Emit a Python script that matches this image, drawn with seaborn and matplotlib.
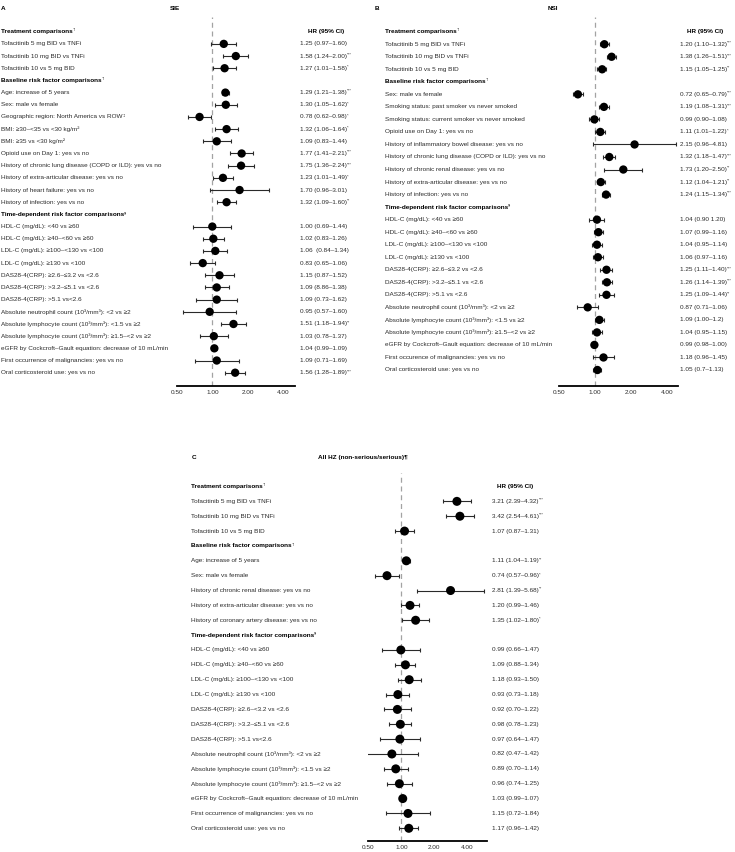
"""
Forest plots of hazard ratios (SIE, NSI, all HZ) in three panels.
"""

import numpy as np
import pandas as pd
import matplotlib
matplotlib.use("Agg")
import matplotlib.pyplot as plt
import matplotlib.ticker as mticker
import matplotlib.transforms as mtransforms
import seaborn as sns

W, H = 735, 852
FS = 4.6
SUP_FS = 3.0
TEXT_COLOR = "#2b2b2b"

# ---------------------------------------------------------------------------
# Data
# ---------------------------------------------------------------------------
HDR_TRT = "Treatment comparisons"
HDR_BASE = "Baseline risk factor comparisons"
HDR_TIME = "Time-dependent risk factor comparisons"
HEADER_MARKS = {HDR_TRT: "†", HDR_BASE: "†", HDR_TIME: "§"}

# Panel A - SIE
A_labels = [
    HDR_TRT,
    "Tofacitinib 5 mg BID vs TNFi",
    "Tofacitinib 10 mg BID vs TNFi",
    "Tofacitinib 10 vs 5 mg BID",
    HDR_BASE,
    "Age: increase of 5 years",
    "Sex: male vs female",
    "Geographic region: North America vs ROW",
    "BMI: ≥30–<35 vs <30 kg/m²",
    "BMI: ≥35 vs <30 kg/m²",
    "Opioid use on Day 1: yes vs no",
    "History of chronic lung disease (COPD or ILD): yes vs no",
    "History of extra-articular disease: yes vs no",
    "History of heart failure: yes vs no",
    "History of infection: yes vs no",
    HDR_TIME,
    "HDL-C (mg/dL): <40 vs ≥60",
    "HDL-C (mg/dL): ≥40–<60 vs ≥60",
    "LDL-C (mg/dL): ≥100–<130 vs <100",
    "LDL-C (mg/dL): ≥130 vs <100",
    "DAS28-4(CRP): ≥2.6–≤3.2 vs <2.6",
    "DAS28-4(CRP): >3.2–≤5.1 vs <2.6",
    "DAS28-4(CRP): >5.1 vs<2.6",
    "Absolute neutrophil count (10³/mm³): <2 vs ≥2",
    "Absolute lymphocyte count (10³/mm³): <1.5 vs ≥2",
    "Absolute lymphocyte count (10³/mm³): ≥1.5–<2 vs ≥2",
    "eGFR by Cockcroft–Gault equation: decrease of 10 mL/min",
    "First occurrence of malignancies: yes vs no",
    "Oral corticosteroid use: yes vs no",
]
A_hr = [np.nan, 1.25, 1.58, 1.27, np.nan, 1.29, 1.30, 0.78, 1.32, 1.09, 1.77, 1.75, 1.23, 1.70, 1.32,
        np.nan, 1.00, 1.02, 1.06, 0.83, 1.15, 1.09, 1.09, 0.95, 1.51, 1.03, 1.04, 1.09, 1.56]
A_lo = [np.nan, 0.97, 1.24, 1.01, np.nan, 1.21, 1.05, 0.62, 1.06, 0.83, 1.41, 1.36, 1.01, 0.96, 1.09,
        np.nan, 0.69, 0.83, 0.84, 0.65, 0.87, 0.86, 0.73, 0.57, 1.18, 0.78, 0.99, 0.71, 1.28]
A_hi = [np.nan, 1.60, 2.00, 1.58, np.nan, 1.38, 1.62, 0.98, 1.64, 1.44, 2.21, 2.24, 1.49, 3.01, 1.60,
        np.nan, 1.44, 1.26, 1.34, 1.06, 1.52, 1.38, 1.62, 1.60, 1.94, 1.37, 1.09, 1.69, 1.89]
A_ci_text = ["", "1.25 (0.97–1.60)", "1.58 (1.24–2.00)", "1.27 (1.01–1.58)", "",
             "1.29 (1.21–1.38)", "1.30 (1.05–1.62)", "0.78 (0.62–0.98)", "1.32 (1.06–1.64)",
             "1.09 (0.83–1.44)", "1.77 (1.41–2.21)", "1.75 (1.36–2.24)", "1.23 (1.01–1.49)",
             "1.70 (0.96–3.01)", "1.32 (1.09–1.60)", "",
             "1.00 (0.69–1.44)", "1.02 (0.83–1.26)", "1.06  (0.84–1.34)", "0.83 (0.65–1.06)",
             "1.15 (0.87–1.52)", "1.09 (8.86–1.38)", "1.09 (0.73–1.62)", "0.95 (0.57–1.60)",
             "1.51 (1.18–1.94)", "1.03 (0.78–1.37)", "1.04 (0.99–1.09)", "1.09 (0.71–1.69)",
             "1.56 (1.28–1.89)"]
A_sig = ["", "", "***", "*", "", "***", "*", "*", "*", "", "***", "***", "*", "", "**", "",
         "", "", "", "", "", "", "", "", "**", "", "", "", "***"]
A_label_marks = {"Geographic region: North America vs ROW": "‡"}

# Panel B - NSI
B_labels = [
    HDR_TRT,
    "Tofacitinib 5 mg BID vs TNFi",
    "Tofacitinib 10 mg BID vs TNFi",
    "Tofacitinib 10 vs 5 mg BID",
    HDR_BASE,
    "Sex: male vs female",
    "Smoking status: past smoker vs never smoked",
    "Smoking status: current smoker vs never smoked",
    "Opioid use on Day 1: yes vs no",
    "History of inflammatory bowel disease: yes vs no",
    "History of chronic lung disease (COPD or ILD): yes vs no",
    "History of chronic renal disease: yes vs no",
    "History of extra-articular disease: yes vs no",
    "History of infection: yes vs no",
    HDR_TIME,
    "HDL-C (mg/dL): <40 vs ≥60",
    "HDL-C (mg/dL): ≥40–<60 vs ≥60",
    "LDL-C (mg/dL): ≥100–<130 vs <100",
    "LDL-C (mg/dL): ≥130 vs <100",
    "DAS28-4(CRP): ≥2.6–≤3.2 vs <2.6",
    "DAS28-4(CRP): >3.2–≤5.1 vs <2.6",
    "DAS28-4(CRP): >5.1 vs <2.6",
    "Absolute neutrophil count (10³/mm³): <2 vs ≥2",
    "Absolute lymphocyte count (10³/mm³): <1.5 vs ≥2",
    "Absolute lymphocyte count (10³/mm³): ≥1.5–<2 vs ≥2",
    "eGFR by Cockcroft–Gault equation: decrease of 10 mL/min",
    "First occurence of malignancies: yes vs no",
    "Oral corticosteroid use: yes vs no",
]
B_hr = [np.nan, 1.20, 1.38, 1.15, np.nan, 0.72, 1.19, 0.99, 1.11, 2.15, 1.32, 1.73, 1.12, 1.24,
        np.nan, 1.04, 1.07, 1.04, 1.06, 1.25, 1.26, 1.25, 0.87, 1.09, 1.04, 0.99, 1.18, 1.05]
B_lo = [np.nan, 1.10, 1.26, 1.05, np.nan, 0.65, 1.08, 0.90, 1.01, 0.96, 1.18, 1.20, 1.04, 1.15,
        np.nan, 0.90, 0.99, 0.95, 0.97, 1.11, 1.14, 1.09, 0.71, 1.00, 0.95, 0.98, 0.96, 0.97]
B_hi = [np.nan, 1.32, 1.51, 1.25, np.nan, 0.79, 1.31, 1.08, 1.22, 4.81, 1.47, 2.50, 1.21, 1.34,
        np.nan, 1.20, 1.16, 1.14, 1.16, 1.40, 1.39, 1.44, 1.06, 1.20, 1.15, 1.00, 1.45, 1.13]
B_ci_text = ["", "1.20 (1.10–1.32)", "1.38 (1.26–1.51)", "1.15 (1.05–1.25)", "",
             "0.72 (0.65–0.79)", "1.19 (1.08–1.31)", "0.99 (0.90–1.08)", "1.11 (1.01–1.22)",
             "2.15 (0.96–4.81)", "1.32 (1.18–1.47)", "1.73 (1.20–2.50)", "1.12 (1.04–1.21)",
             "1.24 (1.15–1.34)", "",
             "1.04 (0.90 1.20)", "1.07 (0.99–1.16)", "1.04 (0.95–1.14)", "1.06 (0.97–1.16)",
             "1.25 (1.11–1.40)", "1.26 (1.14–1.39)", "1.25 (1.09–1.44)", "0.87 (0.71–1.06)",
             "1.09 (1.00–1.2)", "1.04 (0.95–1.15)", "0.99 (0.98–1.00)", "1.18 (0.96–1.45)",
             "1.05 (0.7–1.13)"]
B_sig = ["", "***", "***", "**", "", "***", "***", "", "*", "", "***", "**", "**", "***", "",
         "", "", "", "", "***", "***", "**", "", "", "", "", "", ""]

# Panel C - All HZ
C_labels = [
    HDR_TRT,
    "Tofacitinib 5 mg BID vs TNFi",
    "Tofacitinib 10 mg BID vs TNFi",
    "Tofacitinib 10 vs 5 mg BID",
    HDR_BASE,
    "Age: increase of 5 years",
    "Sex: male vs female",
    "History of chronic renal disease: yes vs no",
    "History of extra-articular disease: yes vs no",
    "History of coronary artery disease: yes vs no",
    HDR_TIME,
    "HDL-C (mg/dL): <40 vs ≥60",
    "HDL-C (mg/dL): ≥40–<60 vs ≥60",
    "LDL-C (mg/dL): ≥100–<130 vs <100",
    "LDL-C (mg/dL): ≥130 vs <100",
    "DAS28-4(CRP): ≥2.6–<3.2 vs <2.6",
    "DAS28-4(CRP): >3.2–≤5.1 vs <2.6",
    "DAS28-4(CRP): >5.1 vs<2.6",
    "Absolute neutrophil count (10³/mm³): <2 vs ≥2",
    "Absolute lymphocyte count (10³/mm³): <1.5 vs ≥2",
    "Absolute lymphocyte count (10³/mm³): ≥1.5–<2 vs ≥2",
    "eGFR by Cockcroft–Gault equation: decrease of 10 mL/min",
    "First occurrence of malignancies: yes vs no",
    "Oral corticosteroid use: yes vs no",
]
C_hr = [np.nan, 3.21, 3.42, 1.07, np.nan, 1.11, 0.74, 2.81, 1.20, 1.35,
        np.nan, 0.99, 1.09, 1.18, 0.93, 0.92, 0.98, 0.97, 0.82, 0.89, 0.96, 1.03, 1.15, 1.17]
C_lo = [np.nan, 2.39, 2.54, 0.87, np.nan, 1.04, 0.57, 1.39, 0.99, 1.02,
        np.nan, 0.66, 0.88, 0.93, 0.73, 0.70, 0.78, 0.64, 0.47, 0.70, 0.74, 0.99, 0.72, 0.96]
C_hi = [np.nan, 4.32, 4.61, 1.31, np.nan, 1.19, 0.96, 5.68, 1.46, 1.80,
        np.nan, 1.47, 1.34, 1.50, 1.18, 1.22, 1.23, 1.47, 1.42, 1.14, 1.25, 1.07, 1.84, 1.42]
C_ci_text = ["", "3.21 (2.39–4.32)", "3.42 (2.54–4.61)", "1.07 (0.87–1.31)", "",
             "1.11 (1.04–1.19)", "0.74 (0.57–0.96)", "2.81 (1.39–5.68)", "1.20 (0.99–1.46)",
             "1.35 (1.02–1.80)", "",
             "0.99 (0.66–1.47)", "1.09 (0.88–1.34)", "1.18 (0.93–1.50)", "0.93 (0.73–1.18)",
             "0.92 (0.70–1.22)", "0.98 (0.78–1.23)", "0.97 (0.64–1.47)", "0.82 (0.47–1.42)",
             "0.89 (0.70–1.14)", "0.96 (0.74–1.25)", "1.03 (0.99–1.07)", "1.15 (0.72–1.84)",
             "1.17 (0.96–1.42)"]
C_sig = ["", "***", "***", "", "", "**", "*", "**", "", "*", "",
         "", "", "", "", "", "", "", "", "", "", "", "", ""]

TICKS = [0.5, 1, 2, 4]


# ---------------------------------------------------------------------------
# Helpers
# ---------------------------------------------------------------------------

def add_sup(ax, txt_artist, mark, fontsize=SUP_FS, color=TEXT_COLOR, weight="normal"):
    """Attach a small superscript mark right after a text artist."""
    if mark:
        ax.annotate(mark, xy=(1, 0.78), xycoords=txt_artist, ha="left", va="center",
                    fontsize=fontsize, color=color, fontweight=weight)


def forest_panel(fig, labels, hr, lo, hi, ci_text, sig, *, axis_x, row_y, top_y, axis_y,
                 xlim, label_x, value_x, hr_x, marker_s, label_marks=None):
    n = len(labels)
    step = (row_y[1] - row_y[0]) / (n - 1)
    left, right = axis_x
    ax = fig.add_axes([left / W, 1 - axis_y / H, (right - left) / W, (axis_y - top_y) / H])

    df = pd.DataFrame({"label": labels, "hr": hr, "lo": lo, "hi": hi,
                       "ci": ci_text, "sig": sig})
    df["row"] = np.arange(n)
    pts = df.dropna(subset=["hr"])

    ax.axvline(1, color="#a3a3a3", ls=(0, (4, 3)), lw=0.9, zorder=1)
    ax.errorbar(pts["hr"], pts["row"],
                xerr=[pts["hr"] - pts["lo"], pts["hi"] - pts["hr"]],
                fmt="none", ecolor="#2a2a2a", elinewidth=0.8, capsize=1.6,
                capthick=0.8, zorder=2)
    sns.scatterplot(data=pts, x="hr", y="row", color="black", s=marker_s,
                    edgecolor="none", linewidth=0, ax=ax, zorder=3, legend=False)

    ax.set_xscale("log")
    ax.set_xlim(*xlim)
    ax.set_ylim((axis_y - row_y[0]) / step, (top_y - row_y[0]) / step)
    ax.xaxis.set_major_locator(mticker.FixedLocator(TICKS))
    ax.xaxis.set_major_formatter(mticker.FuncFormatter(lambda v, _: f"{v:.2f}"))
    ax.xaxis.set_minor_locator(mticker.NullLocator())
    ax.set_yticks([])
    ax.set(xlabel="", ylabel="")
    ax.tick_params(axis="x", length=0, pad=3, labelsize=FS, labelcolor=TEXT_COLOR)
    for side in ["top", "left", "right"]:
        ax.spines[side].set_visible(False)
    ax.spines["bottom"].set_linewidth(1.3)
    ax.spines["bottom"].set_color("black")
    ax.patch.set_alpha(0)

    trans = mtransforms.blended_transform_factory(fig.transFigure, ax.transData)
    label_marks = label_marks or {}
    for _, r in df.iterrows():
        if r["label"] in HEADER_MARKS:
            t = ax.text(label_x / W, r["row"], r["label"], transform=trans, ha="left",
                        va="center", fontsize=FS, fontweight="bold", color="black")
            add_sup(ax, t, HEADER_MARKS[r["label"]], color="black")
        else:
            t = ax.text(label_x / W, r["row"], r["label"], transform=trans, ha="left",
                        va="center", fontsize=FS, color=TEXT_COLOR)
            add_sup(ax, t, label_marks.get(r["label"], ""))
        if r["ci"]:
            v = ax.text(value_x / W, r["row"], r["ci"], transform=trans, ha="left",
                        va="center", fontsize=FS, color=TEXT_COLOR)
            add_sup(ax, v, r["sig"])

    ax.text(hr_x / W, 0, "HR (95% CI)", transform=trans, ha="center", va="center",
            fontsize=FS, fontweight="bold", color="black")
    return ax


# ---------------------------------------------------------------------------
# Figure
# ---------------------------------------------------------------------------
sns.set_theme(style="white")
plt.rcParams["font.family"] = ["Liberation Sans", "DejaVu Sans"]

fig = plt.figure(figsize=(W / 100, H / 100), dpi=100)
fig.patch.set_facecolor("white")

forest_panel(fig, A_labels, A_hr, A_lo, A_hi, A_ci_text, A_sig,
             axis_x=(176.7, 295.0), row_y=(31.7, 372.7), top_y=17, axis_y=386,
             xlim=(0.5, 5), label_x=1, value_x=300, hr_x=326, marker_s=36,
             label_marks=A_label_marks)
forest_panel(fig, B_labels, B_hr, B_lo, B_hi, B_ci_text, B_sig,
             axis_x=(559.0, 678.3), row_y=(31.7, 370.0), top_y=17, axis_y=386,
             xlim=(0.5, 5), label_x=385, value_x=680, hr_x=705, marker_s=36)
forest_panel(fig, C_labels, C_hr, C_lo, C_hi, C_ci_text, C_sig,
             axis_x=(368.3, 486.7), row_y=(486.5, 828.3), top_y=473, axis_y=841,
             xlim=(0.5, 6), label_x=191, value_x=492, hr_x=515, marker_s=42)

# panel letters and titles
title_kw = dict(fontsize=FS, fontweight="bold", color="black", va="center")
fig.text(1 / W, 1 - 8 / H, "A", ha="left", **title_kw)
fig.text(175 / W, 1 - 8 / H, "SIE", ha="center", **title_kw)
fig.text(375 / W, 1 - 8 / H, "B", ha="left", **title_kw)
fig.text(553 / W, 1 - 8 / H, "NSI", ha="center", **title_kw)
fig.text(192 / W, 1 - 457.7 / H, "C", ha="left", **title_kw)
fig.text(363 / W, 1 - 457.7 / H, "All HZ (non-serious/serious)¶", ha="center", **title_kw)

fig.savefig("out.png", dpi=100, facecolor="white")
plt.close(fig)
